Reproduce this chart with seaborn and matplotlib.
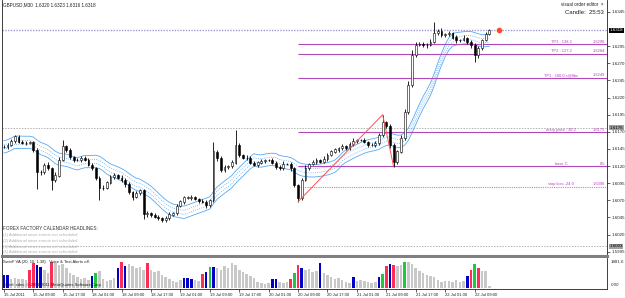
import numpy as np
import pandas as pd
import seaborn as sns
import matplotlib
matplotlib.use("Agg")
import matplotlib.pyplot as plt

# GBPUSD, hourly bars (15 Jul 01:00 -> 22 Jul 13:00)
close = [1.6148, 1.6151, 1.6157, 1.6163, 1.6155, 1.6154, 1.6154, 1.6155, 1.6144, 1.6111,
         1.6111, 1.6122, 1.6117, 1.6100, 1.6106, 1.6129, 1.6149, 1.6144, 1.6133, 1.6129,
         1.6129, 1.6132, 1.6129, 1.6122, 1.6117, 1.6103, 1.6088, 1.6088, 1.6096, 1.6104,
         1.6107, 1.6103, 1.6100, 1.6094, 1.6082, 1.6075, 1.6081, 1.6085, 1.6050, 1.6051,
         1.6049, 1.6046, 1.6044, 1.6041, 1.6044, 1.6049, 1.6051, 1.6062, 1.6068, 1.6074,
         1.6074, 1.6075, 1.6072, 1.6069, 1.6068, 1.6063, 1.6070, 1.6141, 1.6132, 1.6114,
         1.6119, 1.6120, 1.6125, 1.6151, 1.6136, 1.6132, 1.6132, 1.6125, 1.6122, 1.6125,
         1.6127, 1.6129, 1.6129, 1.6125, 1.6119, 1.6117, 1.6123, 1.6123, 1.6117, 1.6092,
         1.6074, 1.6100, 1.6117, 1.6123, 1.6126, 1.6129, 1.6126, 1.6130, 1.6136, 1.6141,
         1.6144, 1.6146, 1.6149, 1.6146, 1.6152, 1.6157, 1.6158, 1.6158, 1.6155, 1.6151,
         1.6151, 1.6154, 1.6165, 1.6184, 1.6179, 1.6151, 1.6126, 1.6141, 1.6161, 1.6199,
         1.6238, 1.6282, 1.6297, 1.6298, 1.6297, 1.6297, 1.6301, 1.6314, 1.6317, 1.6311,
         1.6313, 1.6314, 1.6308, 1.6304, 1.6304, 1.6307, 1.6301, 1.6297, 1.6282, 1.6292,
         1.6304, 1.6313, 1.6318]
# wick lengths in pips above / below the body
wick_up = [3, 2, 3, 2, 2, 3, 2, 2, 1, 2, 3, 2, 4, 2, 5, 4, 9, 2, 3, 2,
           3, 2, 2, 3, 2, 2, 3, 4, 2, 3, 3, 2, 4, 2, 3, 2, 3, 2, 2, 3,
           2, 3, 2, 2, 3, 4, 2, 3, 2, 3, 2, 3, 2, 2, 3, 2, 2, 14, 3, 2,
           3, 2, 4, 22, 3, 2, 4, 2, 3, 2, 3, 2, 2, 3, 2, 3, 4, 2, 3, 2,
           2, 3, 4, 2, 3, 3, 2, 4, 3, 2, 3, 2, 3, 2, 3, 4, 2, 2, 3, 2,
           3, 2, 4, 11, 2, 2, 3, 2, 4, 5, 6, 8, 4, 3, 3, 2, 4, 16, 3, 4,
           2, 3, 2, 3, 2, 4, 2, 3, 2, 4, 2, 3, 2]
wick_dn = [2, 3, 2, 3, 2, 2, 3, 2, 3, 25, 4, 3, 2, 15, 3, 2, 2, 3, 2, 3,
           2, 3, 2, 2, 3, 3, 18, 3, 2, 2, 3, 2, 3, 4, 3, 4, 2, 3, 8, 4,
           3, 2, 3, 3, 2, 3, 2, 3, 2, 3, 2, 3, 2, 3, 2, 4, 3, 2, 4, 3,
           2, 3, 3, 2, 3, 2, 3, 2, 2, 3, 2, 3, 2, 2, 3, 2, 3, 2, 4, 3,
           6, 3, 2, 3, 2, 3, 2, 2, 3, 2, 2, 3, 2, 3, 2, 2, 3, 2, 2, 3,
           2, 3, 3, 2, 3, 4, 7, 3, 2, 3, 3, 2, 3, 2, 3, 4, 2, 2, 3, 3,
           2, 3, 2, 4, 3, 2, 3, 5, 10, 4, 3, 2, 2]
volume = [941, 941, 652, 724, 652, 652, 579, 1303, 1810, 1665,
          1520, 1303, 1086, 1880, 1810, 1665, 1738, 1448, 1086, 941,
          796, 652, 724, 579, 869, 1086, 1231, 652, 507, 579,
          724, 1448, 1882, 1593, 1738, 1593, 1448, 1520, 1303, 1810,
          1303, 1158, 1231, 941, 796, 652, 507, 434, 579, 724,
          724, 652, 579, 507, 1014, 1158, 1520, 1520, 1448, 1303,
          1593, 1448, 1810, 1665, 1303, 1158, 1014, 869, 724, 434,
          362, 290, 362, 652, 652, 434, 362, 434, 652, 1086,
          1665, 1448, 1303, 1376, 1158, 1231, 1810, 1086, 941, 796,
          652, 724, 579, 434, 362, 796, 507, 579, 507, 434,
          362, 434, 796, 1014, 1593, 1738, 1665, 1593, 1665, 1860,
          1882, 1738, 1448, 1231, 1086, 941, 869, 796, 579, 434,
          507, 507, 434, 579, 434, 507, 869, 1303, 1738, 1448,
          1231, 1231, 145]
# n = normal, r / b / g = alert colours of the volume indicator
vol_kind = list("bbnnnnnrrbbnnrnnnnnnnnnnbgnnnnnbrbnnnnnrnnnnnnnnnbbbnnrbgbnn"
                "nnnnnnnnnnnnnbbnnnrgrbnnnnbnnnnnnnnbnnnnnnbgrbrnngnnnnnnnnnn"
                "nnnnnnbrgrnnn")

time_labels = ["15 Jul 2011", "15 Jul 09:00", "15 Jul 17:00", "18 Jul 01:00",
               "18 Jul 09:00", "18 Jul 17:00", "19 Jul 01:00", "19 Jul 09:00",
               "19 Jul 17:00", "20 Jul 01:00", "20 Jul 09:00", "20 Jul 17:00",
               "21 Jul 01:00", "21 Jul 09:00", "21 Jul 17:00", "22 Jul 01:00",
               "22 Jul 09:00"]

fib_levels = [1.6298, 1.6284, 1.6249, 1.6170, 1.6120, 1.6090]
fib_names = ["TP3 : 138.2", "TP2 : 127.2", "TP1 : 100.0 s@fibs", "entry point : 38.2",
             "base C", "stop loss -24.0"]
fib_values = ["1.6298", "1.6284", "1.6249", "1.6175", "0%", "1.6090"]
order_lines = [1.6176, 1.6003]
news = ["(1) Additional news events not scheduled",
        "(2) Additional news events not scheduled",
        "(3) Additional news events not scheduled",
        "(4) Additional news events not scheduled"]

pip = 0.0001
n = len(close)
bars = np.arange(n)
c = np.array(close)
o = np.r_[c[0], c[:-1]]
hi = np.maximum(o, c) + np.array(wick_up) * pip
lo = np.minimum(o, c) - np.array(wick_dn) * pip
df = pd.DataFrame({"bar": bars, "close": c})
df["ma"] = df["close"].rolling(12, min_periods=1).mean()

sns.set_theme(style="white")
plt.rcParams["font.family"] = ["Liberation Sans", "DejaVu Sans"]

W, H = 625, 298
fig = plt.figure(figsize=(W / 100, H / 100), dpi=100)
fig.patch.set_facecolor("white")


def fx(x):
    return x / W


def fy(y):
    return 1 - y / H


ax = fig.add_axes([fx(2), fy(256), fx(605), 256 / H])
ax2 = fig.add_axes([fx(2), fy(289), fx(605), 31 / H])
xmax = 164
for a in (ax, ax2):
    a.set_xlim(-0.5, xmax)
    a.set_facecolor("white")
    for s in a.spines.values():
        s.set_color("#202020")
        s.set_linewidth(0.6)
    a.spines["top"].set_visible(False)

ax.set_ylim(1.59887, 1.63625)
ax.spines["bottom"].set_color("#808080")
ax.spines["bottom"].set_linewidth(2.2)

# MA envelope
ma_col = "#5aa8f0"
for off, ls in [(9, "-"), (-9, "-"), (3, ":"), (-3, ":")]:
    sns.lineplot(x=df["bar"], y=df["ma"] + off * pip, ax=ax, color=ma_col, lw=0.6,
                 linestyle=ls, zorder=2)

# candles
up = c >= o
ax.vlines(bars, lo, hi, color="black", lw=0.6, zorder=3)
ax.bar(bars[up], (c - o)[up] + 0.00003, bottom=o[up], width=0.5, color="white",
       edgecolor="black", lw=0.4, zorder=4)
ax.bar(bars[~up], (c - o)[~up] - 0.00003, bottom=o[~up], width=0.5, color="black",
       edgecolor="black", lw=0.4, zorder=4)

# zigzag A-B-C
za, zb, zc = 80, 103, 106
sns.lineplot(x=[za, zb, zc], y=[lo[za], hi[zb], lo[zc]], ax=ax, color="#ff5050",
             lw=0.7, sort=False, zorder=5)

# fib projection lines
fib_col = "#b048b8"
for i, (lv, nm, vv) in enumerate(zip(fib_levels, fib_names, fib_values)):
    ls = (0, (1, 1)) if i == len(fib_levels) - 1 else "-"
    col = "#e070c8" if i == len(fib_levels) - 1 else fib_col
    ax.hlines(lv, za, xmax, color=col, lw=0.8, linestyles=ls, zorder=2)
    ax.text(151.5, lv + 0.00004, nm, fontsize=2.9, color=fib_col, ha="center", va="bottom")
    ax.text(163.5, lv + 0.00004, vv, fontsize=2.9, color=fib_col, ha="right", va="bottom")

# price line and pending order lines
ax.axhline(c[-1], color="#9c9cd0", lw=1.0, ls=(0, (1, 1)), zorder=1)
for lv in order_lines:
    ax.axhline(lv, color="#909090", lw=0.5, ls=(0, (2, 2)), zorder=1)
ax.plot([n + 1.5], [c[-1]], "o", color="#ff4a2a", ms=3, zorder=6)

# right price scale (the tick hidden under the bid box is left out)
ticks = np.round(np.arange(1.5995, 1.6346, 0.0025), 4)
ticks = ticks[np.abs(ticks - c[-1]) > 0.0005]
ax.yaxis.tick_right()
ax.set_yticks(ticks)
ax.set_yticklabels([f"{t:.4f}" for t in ticks])
ax.tick_params(axis="y", length=2, width=0.5, pad=1.5, labelsize=3.2, colors="#202020",
               right=True)
ax.set_xticks([])
ax.set_ylabel("")
ax.set_xlabel("")
boxes = [(c[-1], "black", "white"), (order_lines[0], "#a0a0a0", "black"),
         (order_lines[1], "#a0a0a0", "black")]
for lv, bg, fg in boxes:
    ax.text(1.004, lv, f"{lv:.4f}", transform=ax.get_yaxis_transform(), fontsize=3.2,
            color=fg, va="center", ha="left", zorder=10,
            bbox=dict(boxstyle="square,pad=0.15", fc=bg, ec="none"))

# volume panel
pal = {"n": "#c8c8c8", "r": "#ff2d55", "b": "#0000c8", "g": "#20c840"}
vdf = pd.DataFrame({"bar": bars, "vol": volume, "kind": vol_kind})
sns.barplot(data=vdf, x="bar", y="vol", hue="kind", palette=pal, native_scale=True,
            dodge=False, width=0.7, legend=False, errorbar=None, saturation=1,
            linewidth=0, ax=ax2)
ax2.set_ylim(-72, 2172)
ax2.yaxis.tick_right()
ax2.set_yticks([])
ax2.set_ylabel("")
ax2.set_xlabel("")
ax2.set_xlim(-0.5, xmax)
lab_pos = np.arange(len(time_labels)) * 8
ax2.set_xticks(lab_pos)
ax2.set_xticklabels(time_labels, ha="left")
ax2.tick_params(axis="x", length=2, width=0.5, pad=1, labelsize=3.0, colors="#202020",
                bottom=True)
ax2.text(1.006, 0.86, "1881.6", transform=ax2.transAxes, fontsize=3.2, va="center")
ax2.text(1.006, 0.12, "0.00", transform=ax2.transAxes, fontsize=3.2, va="center",
         style="italic")

# chart texts
fig.text(fx(3), fy(5), "GBPUSD,M30  1.6320 1.6323 1.6316 1.6318", fontsize=3.3,
         va="center", color="#202020")
fig.text(fx(604), fy(5), "visual order editor  \u00d7", fontsize=3.3, ha="right",
         va="center", color="#202020")
fig.text(fx(604), fy(13), "Candle:  25:53", fontsize=4.3, ha="right", va="center",
         color="#202020")
fig.text(fx(3), fy(228), "FOREX FACTORY CALENDAR HEADLINES:", fontsize=3.3,
         va="center", color="#303030")
for k, line in enumerate(news):
    fig.text(fx(3), fy(235 + k * 5.8), line, fontsize=3.0, va="center", color="#b0b0b0")
fig.text(fx(3), fy(262), "SwinF VA (20, 10, 1.38)   Voice & Text Alerts off.",
         fontsize=3.0, va="center", color="#202020")
fig.text(fx(3), fy(285), "Serial: xdev, \u00a9 2001-2011 MetaQuotes Software Corp.",
         fontsize=3.0, va="center", color="#202020")

fig.savefig("out.png", dpi=100, facecolor="white")
